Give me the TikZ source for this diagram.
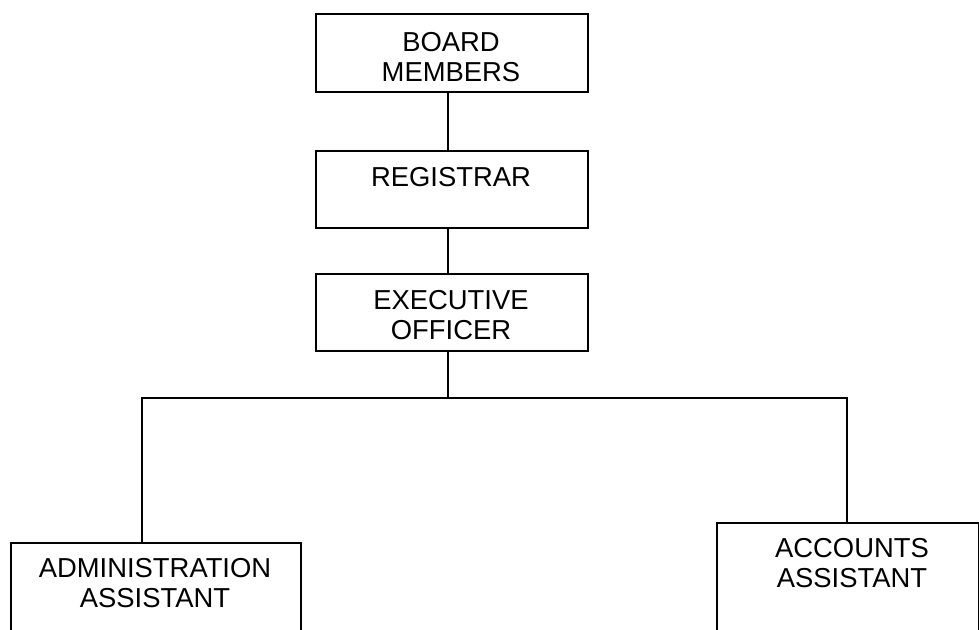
\documentclass[tikz,border=0pt]{standalone}
\usepackage{fontspec}
\setmainfont{Liberation Sans}
\begin{document}
\begin{tikzpicture}[x=1pt,y=-1pt,
  box/.style={draw, line width=1.8pt, rectangle, inner sep=0pt, anchor=north west},
  lbl/.style={font=\fontsize{27.4}{30}\selectfont, align=center, inner sep=0pt},
  conn/.style={line width=1.8pt}]
\useasboundingbox (0,0) rectangle (979,629);
\clip (0,0) rectangle (979,629);
% boxes
\node[box, minimum width=272pt, minimum height=78pt] (board) at (315,13) {};
\node[box, minimum width=272pt, minimum height=77pt] (reg) at (315,150) {};
\node[box, minimum width=272pt, minimum height=77pt] (exec) at (315,273) {};
\node[box, minimum width=290pt, minimum height=110pt] (admin) at (10,542) {};
\node[box, minimum width=262pt, minimum height=130pt] (acc) at (716,522) {};
% labels
\node[lbl] (boardt) at (451,57) {BOARD\\MEMBERS};
\node[lbl] (regt) at (451,177) {REGISTRAR};
\node[lbl] (exect) at (451,315) {EXECUTIVE\\OFFICER};
\node[lbl] (admint) at (155,583) {ADMINISTRATION\\ASSISTANT};
\node[lbl] (acct) at (852,563) {ACCOUNTS\\ASSISTANT};
% connector guides
\coordinate (spine) at (448,0);
\coordinate (bar) at (0,398);
\coordinate (leftx) at (142,0);
\coordinate (rightx) at (847,0);
% connectors
\draw[conn] (board.south -| spine) -- (reg.north -| spine);
\draw[conn] (reg.south -| spine) -- (exec.north -| spine);
\draw[conn] (exec.south -| spine) -- (spine |- bar);
\draw[conn] (admin.north -| leftx) -- (leftx |- bar) -- (rightx |- bar) -- (acc.north -| rightx);
\end{tikzpicture}
\end{document}
